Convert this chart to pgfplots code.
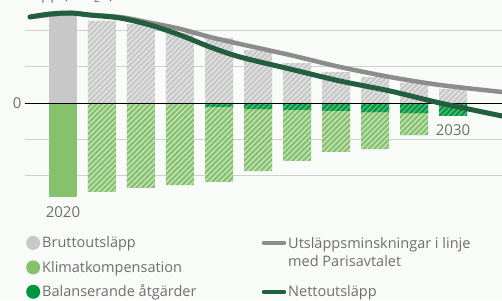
\documentclass[border=0pt]{standalone}
\usepackage{fontspec}
\setmainfont{Open Sans}
\usepackage{pgfplots}
\pgfplotsset{compat=1.18}
\usepackage{pgfplotstable}
\usetikzlibrary{patterns.meta}

\definecolor{bg}{RGB}{249,251,249}
\definecolor{grossgray}{RGB}{200,200,200}
\definecolor{stripegray}{RGB}{228,228,228}
\definecolor{lightgreen}{RGB}{134,193,110}
\definecolor{stripelight}{RGB}{200,228,188}
\definecolor{darkgreen}{RGB}{0,150,64}
\definecolor{stripedark}{RGB}{95,190,130}
\definecolor{parisgray}{RGB}{140,140,140}
\definecolor{netgreen}{RGB}{35,94,63}
\definecolor{gridc}{RGB}{208,208,208}
\definecolor{textgray}{RGB}{110,110,110}

\pgfplotsset{
  legcirc/.style={legend image code/.code={\fill[##1, draw=none] (7pt,0pt) circle (7pt);}},
  legline/.style={legend image code/.code={\draw[##1, line cap=round] (2.5pt,0pt) -- (22.5pt,0pt);}},
}

\pgfplotstableread{
year gross neg dark
2020 2.44 2.61 0
2021 2.28 2.47 0
2022 2.19 2.36 0
2023 1.94 2.28 0
2024 1.81 2.19 0.11
2025 1.47 1.89 0.17
2026 1.11 1.61 0.19
2027 0.86 1.36 0.22
2028 0.72 1.28 0.25
2029 0.56 0.89 0.28
2030 0.39 0.36 0.36
}\bars

\pgfplotstableread{
x y
2019.154 2.389
2020.179 2.500
2020.692 2.444
2021.462 2.389
2022.231 2.230
2023.000 2.060
2023.769 1.833
2024.538 1.639
2025.821 1.333
2027.103 1.000
2028.385 0.722
2029.667 0.500
2031.256 0.306
}\paris

\pgfplotstableread{
x y
2019.154 2.389
2019.667 2.472
2020.179 2.500
2020.692 2.444
2021.462 2.361
2022.231 2.167
2023.000 1.889
2023.769 1.556
2024.538 1.278
2025.821 0.944
2027.103 0.611
2028.385 0.333
2029.667 0.000
2031.256 -0.361
}\net

\begin{document}
\begin{tikzpicture}
\useasboundingbox (0,0) rectangle (502pt,300pt);
\fill[bg] (0,0) rectangle (502pt,300pt);
\begin{axis}[
  at={(25pt,98pt)}, anchor=south west,
  scale only axis, width=477pt, height=202pt,
  xmin=2019.026, xmax=2031.256,
  ymin=-2.75, ymax=2.8611,
  clip=false,
  axis line style={draw=none},
  tick style={draw=none},
  xtick=\empty,
  ytick={-2,-1,0,1,2},
  yticklabels={,,{\textrm{0}},,},
  yticklabel style={text=textgray, font=\fontsize{15}{18}\selectfont},
  ymajorgrids,
  grid style={color=gridc, line width=1pt},
  legend columns=2,
  legend cell align=left,
  legend style={at={(0,0)}, anchor=north west, xshift=1pt, yshift=-32pt,
    draw=none, fill=none, inner sep=0pt,
    font=\fontsize{14.5}{17}\selectfont, text=textgray,
    row sep=7.5pt,
    /tikz/every even column/.append style={column sep=63pt}},
]
% legend entries
\addlegendimage{legcirc, fill=grossgray}
\addlegendentry{Bruttoutsläpp}
\addlegendimage{legline, draw=parisgray, line width=4.5pt}
\addlegendentry{\raisebox{0pt}[\height][0pt]{\begin{tabular}[t]{@{}l@{}}Utsläppsminskningar i linje\\[1.5pt]med Parisavtalet\end{tabular}}}
\addlegendimage{legcirc, fill=lightgreen}
\addlegendentry{Klimatkompensation}
\addlegendimage{empty legend}
\addlegendentry{}
\addlegendimage{legcirc, fill=darkgreen}
\addlegendentry{Balanserande åtgärder}
\addlegendimage{legline, draw=netgreen, line width=4.5pt}
\addlegendentry{Nettoutsläpp}

% solid 2020 bars
\addplot[ybar, bar width=28pt, bar shift=0pt, fill=grossgray, draw=none, forget plot,
  restrict x to domain=2020:2020] table[x=year, y=gross]{\bars};
\addplot[ybar, bar width=28pt, bar shift=0pt, fill=lightgreen, draw=none, forget plot,
  restrict x to domain=2020:2020] table[x=year, y expr=-\thisrow{neg}]{\bars};
% hatched bars
\addplot[ybar, bar width=28pt, bar shift=0pt, fill=grossgray, draw=none, forget plot,
  restrict x to domain=2021:2030,
  postaction={pattern={Lines[angle=45,distance=3.8pt,line width=1.3pt]}, pattern color=stripegray}]
  table[x=year, y=gross]{\bars};
\addplot[ybar, bar width=28pt, bar shift=0pt, fill=lightgreen, draw=none, forget plot,
  restrict x to domain=2021:2030,
  postaction={pattern={Lines[angle=45,distance=3.8pt,line width=1.3pt]}, pattern color=stripelight}]
  table[x=year, y expr=-\thisrow{neg}]{\bars};
\addplot[ybar, bar width=28pt, bar shift=0pt, fill=darkgreen, draw=none, forget plot,
  restrict x to domain=2024:2030,
  postaction={pattern={Lines[angle=45,distance=3.8pt,line width=1.3pt]}, pattern color=stripedark}]
  table[x=year, y expr=-\thisrow{dark}]{\bars};
% zero line
\addplot[black, line width=1pt, forget plot] coordinates {(2019.026,0) (2031.256,0)};
% lines
\addplot[smooth, color=parisgray, line width=4.5pt, line cap=round, forget plot] table[x=x,y=y]{\paris};
\addplot[smooth, color=netgreen, line width=5pt, line cap=round, forget plot] table[x=x,y=y]{\net};

\node[anchor=base, text=textgray, font=\fontsize{15}{18}\selectfont] at (axis cs:2020,-3.17) {2020};
\node[anchor=base, text=textgray, font=\fontsize{15}{18}\selectfont] at (axis cs:2030,-0.89) {2030};
\end{axis}
\node[anchor=base east, text=textgray, font=\fontsize{15}{18}\selectfont] at (117pt,300.5pt) {Utsläpp (tCO\textsubscript{2}e)};
\end{tikzpicture}
\end{document}
